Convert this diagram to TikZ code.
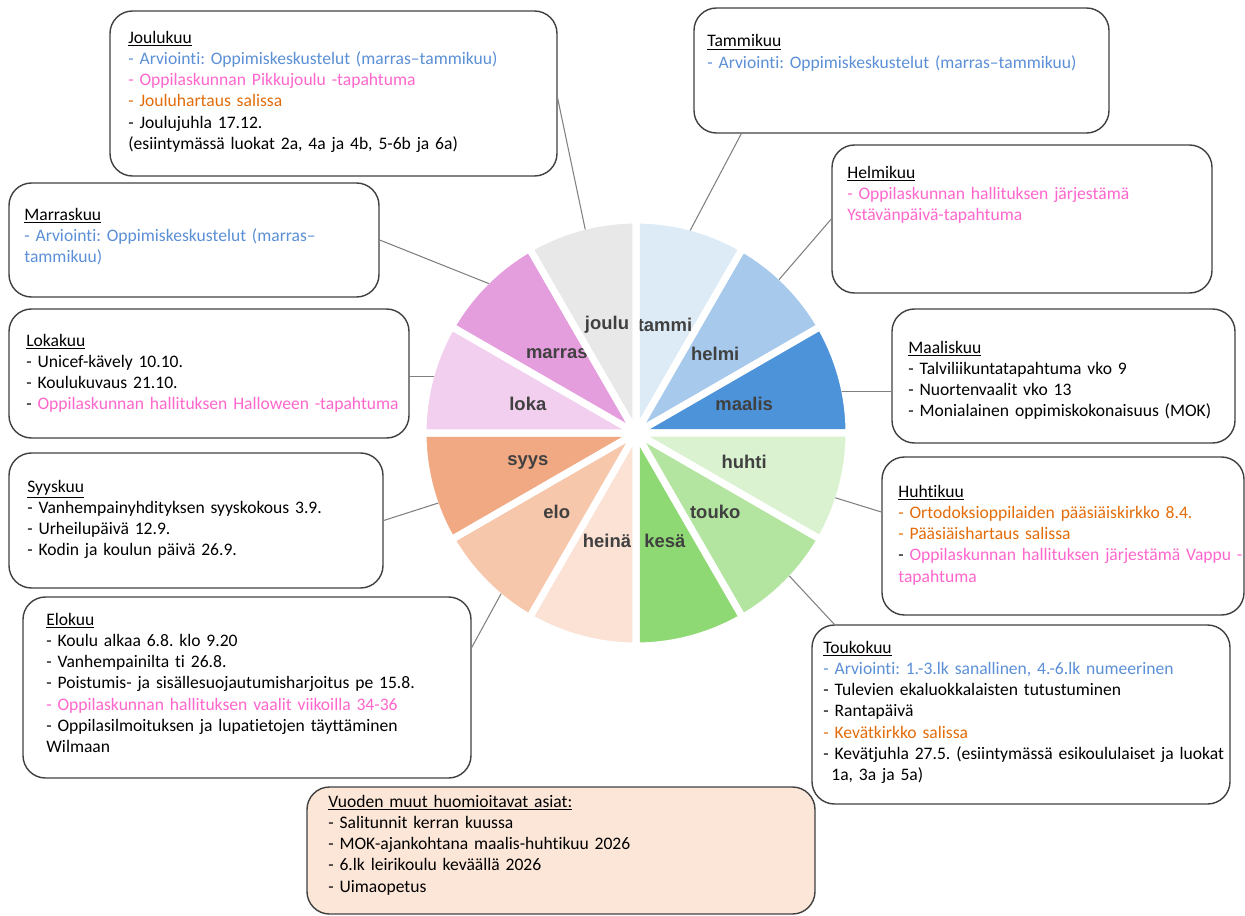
\documentclass[tikz,border=0pt]{standalone}
\usepackage{fontspec}
\setmainfont{Carlito}[Ligatures=CommonOff]
\newfontfamily\piefont{Liberation Sans}
\usetikzlibrary{fit}
\frenchspacing

\definecolor{arvblue}{HTML}{5B8FD6}
\definecolor{opppink}{HTML}{FF66CC}
\definecolor{kirorange}{HTML}{E36C0A}
\definecolor{boxline}{HTML}{404040}
\definecolor{vuofill}{HTML}{FCE6D8}
% slice colours
\definecolor{sl-tammi}{HTML}{DDEBF7}
\definecolor{sl-helmi}{HTML}{A6C9EC}
\definecolor{sl-maalis}{HTML}{4D93D9}
\definecolor{sl-huhti}{HTML}{DAF2D0}
\definecolor{sl-touko}{HTML}{B3E5A1}
\definecolor{sl-kesa}{HTML}{8ED973}
\definecolor{sl-heina}{HTML}{FBE2D5}
\definecolor{sl-elo}{HTML}{F7C7AC}
\definecolor{sl-syys}{HTML}{F1A983}
\definecolor{sl-loka}{HTML}{F2CEEF}
\definecolor{sl-marras}{HTML}{E49EDD}
\definecolor{sl-joulu}{HTML}{E8E8E8}

\newcommand\arvtxt[1]{{\color{arvblue}#1}}
\newcommand\opptxt[1]{{\color{opppink}#1}}
\newcommand\kirtxt[1]{{\color{kirorange}#1}}

\tikzset{
  monthbox/.style={draw=boxline, line width=0.8pt, rounded corners=0.45cm, inner sep=0pt},
  monthtext/.style={anchor=base west, inner sep=0pt, text width=10cm, align=left,
    font=\fontsize{10}{12.1}\selectfont\frenchspacing},
  leader/.style={draw=black!50, line width=0.6pt},
  slicelabel/.style={font=\piefont\bfseries\fontsize{10.5}{12}\selectfont, text=black!75, inner sep=0pt},
}

\begin{document}
\begin{tikzpicture}[x=0.02cm, y=-0.02cm, line join=round, line cap=round]
\useasboundingbox (0,0) rectangle (1245,916);

% the year wheel
\begin{scope}[shift={(636,433)}, x=0.02cm, y=0.02cm]
  \foreach \a/\m/\t in {60/tammi/tammi, 30/helmi/helmi, 0/maalis/maalis, -30/huhti/huhti,
      -60/touko/touko, -90/kesa/kesä, -120/heina/heinä, -150/elo/elo, 180/syys/syys,
      150/loka/loka, 120/marras/marras, 90/joulu/joulu}{
    \filldraw[fill=sl-\m, draw=white, line width=4pt] (0,0) -- (\a:213)
      arc[start angle=\a, end angle=\a+30, radius=213] -- cycle;
    \node[slicelabel] (l-\m) at (\a+15:112) {\t};
  }
  \coordinate (rjou) at (104:210);
  \coordinate (rtam) at (75:210);
  \coordinate (rhel) at (47:210);
  \coordinate (rmaa) at (11.3:210);
  \coordinate (rhuh) at (342:210);
  \coordinate (rtou) at (317:210);
  \coordinate (relo) at (230:210);
  \coordinate (rsyy) at (199.5:210);
  \coordinate (rlok) at (164.5:210);
  \coordinate (rmar) at (134.6:210);
\end{scope}

% month boxes
\node[monthbox, fit={(110,11) (557,176)}] (jou) {};
\node[monthtext] (jou-t) at (128,43) {\underline{Joulukuu}\\
  \arvtxt{- Arviointi: Oppimiskeskustelut (marras–tammikuu)}\\
  \opptxt{- Oppilaskunnan Pikkujoulu -tapahtuma}\\
  \kirtxt{- Jouluhartaus salissa}\\
  - Joulujuhla 17.12.\\
  (esiintymässä luokat 2a, 4a ja 4b, 5-6b ja 6a)};

\node[monthbox, fit={(694,8) (1109,133)}] (tam) {};
\node[monthtext] (tam-t) at (707,47) {\underline{Tammikuu}\\
  \arvtxt{- Arviointi: Oppimiskeskustelut (marras–tammikuu)}};

\node[monthbox, fit={(832,145) (1212,293)}] (hel) {};
\node[monthtext] (hel-t) at (847,178) {\underline{Helmikuu}\\
  \opptxt{- Oppilaskunnan hallituksen järjestämä}\\
  \opptxt{Ystävänpäivä-tapahtuma}};

\node[monthbox, fit={(892,309) (1235,443)}] (maa) {};
\node[monthtext] (maa-t) at (908,353) {\underline{Maaliskuu}\\
  - Talviliikuntatapahtuma vko 9\\
  - Nuortenvaalit vko 13\\
  - Monialainen oppimiskokonaisuus (MOK)};

\node[monthbox, fit={(882,457) (1244,615)}] (huh) {};
\node[monthtext] (huh-t) at (898,497) {\underline{Huhtikuu}\\
  \kirtxt{- Ortodoksioppilaiden pääsiäiskirkko 8.4.}\\
  \kirtxt{- Pääsiäishartaus salissa}\\
  - \opptxt{Oppilaskunnan hallituksen järjestämä Vappu -}\\
  \opptxt{tapahtuma}};

\node[monthbox, fit={(812,625) (1230,804)}] (tou) {};
\node[monthtext] (tou-t) at (823,653) {\underline{Toukokuu}\\
  \arvtxt{- Arviointi: 1.-3.lk sanallinen, 4.-6.lk numeerinen}\\
  - Tulevien ekaluokkalaisten tutustuminen\\
  - Rantapäivä\\
  \kirtxt{- Kevätkirkko salissa}\\
  - Kevätjuhla 27.5. (esiintymässä esikoululaiset ja luokat\\
  \hspace*{0.16cm}1a, 3a ja 5a)};

\node[monthbox, fit={(9,183) (379,297)}] (mar) {};
\node[monthtext] (mar-t) at (24,220) {\underline{Marraskuu}\\
  \arvtxt{- Arviointi: Oppimiskeskustelut (marras–}\\
  \arvtxt{tammikuu)}};

\node[monthbox, fit={(9,309) (409,438)}] (lok) {};
\node[monthtext] (lok-t) at (26,346) {\underline{Lokakuu}\\
  - Unicef-kävely 10.10.\\
  - Koulukuvaus 21.10.\\
  - \opptxt{Oppilaskunnan hallituksen Halloween -tapahtuma}};

\node[monthbox, fit={(9,453) (383,588)}] (syy) {};
\node[monthtext] (syy-t) at (27,492) {\underline{Syyskuu}\\
  - Vanhempainyhdityksen syyskokous 3.9.\\
  - Urheilupäivä 12.9.\\
  - Kodin ja koulun päivä 26.9.};

\node[monthbox, fit={(23,597) (471,778)}] (elo) {};
\node[monthtext] (elo-t) at (46,625) {\underline{Elokuu}\\
  - Koulu alkaa 6.8. klo 9.20\\
  - Vanhempainilta ti 26.8.\\
  - Poistumis- ja sisällesuojautumisharjoitus pe 15.8.\\
  \opptxt{- Oppilaskunnan hallituksen vaalit viikoilla 34-36}\\
  - Oppilasilmoituksen ja lupatietojen täyttäminen\\
  Wilmaan};

\node[monthbox, fill=vuofill, fit={(307,787) (815,914)}] (vuo) {};
\node[monthtext] (vuo-t) at (328,807) {\underline{Vuoden muut huomioitavat asiat:}\\
  - Salitunnit kerran kuussa\\
  - MOK-ajankohtana maalis-huhtikuu 2026\\
  - 6.lk leirikoulu keväällä 2026\\
  - Uimaopetus};

% leaders from the wheel
\draw[leader] (rjou) -- ([yshift=-0.1cm]jou.east);
\draw[leader] (rtam) -- ([xshift=0.96cm]tam.south west);
\draw[leader] (rhel) -- (hel.west);
\draw[leader] (rmaa) -- (rmaa -| maa.west);
\draw[leader] (rhuh) -- ([yshift=0.48cm]huh.west);
\draw[leader] (rtou) -- ([xshift=0.46cm]tou.north west);
\draw[leader] (relo) -- ([yshift=0.8cm]elo.east);
\draw[leader] (rsyy) -- (syy.east);
\draw[leader] (rlok) -- (rlok -| lok.east);
\draw[leader] (rmar) -- (mar.east);
\end{tikzpicture}
\end{document}
